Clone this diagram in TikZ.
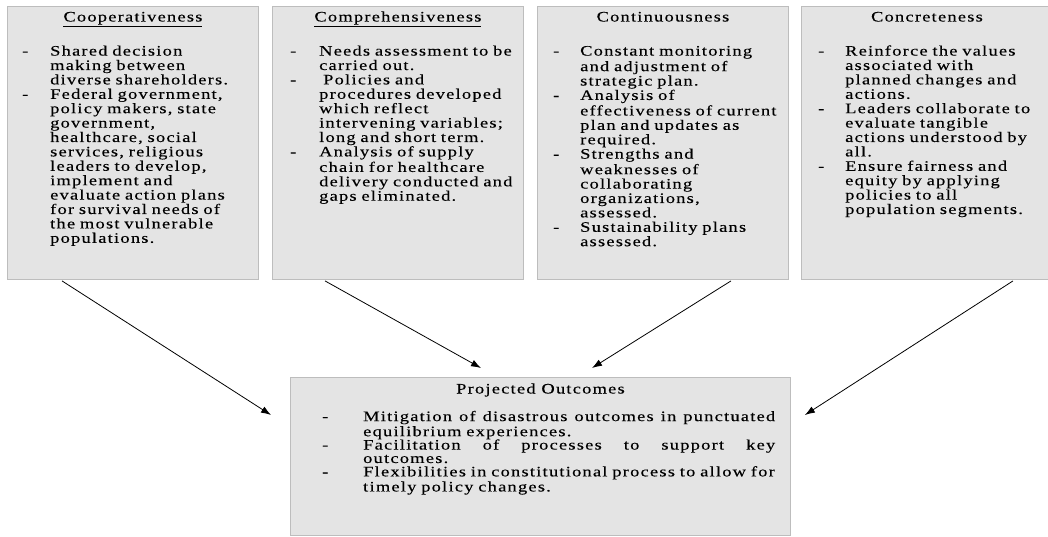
\documentclass[tikz,border=0pt]{standalone}
\usepackage{fontspec}
\setmainfont{Liberation Serif}[FakeStretch=1.27,LetterSpace=8.5,FakeBold=0.2]
\usetikzlibrary{arrows.meta,calc}
\definecolor{boxfill}{HTML}{E4E4E4}
\definecolor{boxline}{HTML}{BDBDBD}
\newlength\itind
\newcommand\ditem[1]{\par\noindent\hangindent=\itind\hangafter=1\makebox[\itind][l]{-}\strut#1\par}
\tikzset{
  box/.style={draw=boxline, fill=boxfill, line width=0.9pt, anchor=north west, inner sep=0pt},
  head/.style={anchor=base, inner sep=0pt, font=\fontsize{14.5}{14.4}\selectfont},
  txt/.style={anchor=north west, inner sep=0pt, text width=240pt, align=left,
    font=\fontsize{14.5}{14.4}\selectfont},
  arr/.style={-{Latex[length=10pt,width=7pt]}, line width=0.8pt, black}
}
\begin{document}
\begin{tikzpicture}[x=1pt,y=-1pt]
\clip (0,0) rectangle (1048,537);
\fill[white] (0,0) rectangle (1048,537);
% top boxes
\node[box, minimum width=251pt, minimum height=273pt] (b1) at (7,6) {};
\node[box, minimum width=251pt, minimum height=273pt] (b2) at (272,6) {};
\node[box, minimum width=251pt, minimum height=273pt] (b3) at (537,6) {};
\node[box, minimum width=251pt, minimum height=273pt] (b4) at (801,6) {};
% headings
\node[head] (h1) at ($(b1.north)+(0,15.5)$) {\underline{Cooperativeness}};
\node[head] (h2) at ($(b2.north)+(0,15.5)$) {\underline{Comprehensiveness}};
\node[head] (h3) at ($(b3.north)+(0,15.5)$) {Continuousness};
\node[head] (h4) at ($(b4.north)+(0,15.5)$) {Concreteness};
% contents
\node[txt] (t1) at ($(b1.north west)+(15,35)$) {\setlength\itind{28pt}\raggedright
\ditem{Shared decision\newline making between\newline diverse shareholders.}
\ditem{Federal government,\newline policy makers, state\newline government,\newline healthcare, social\newline services, religious\newline leaders to develop,\newline implement and\newline evaluate action plans\newline for survival needs of\newline the most vulnerable\newline populations.}};
\node[txt] (t2) at ($(b2.north west)+(18,35)$) {\setlength\itind{29pt}\raggedright
\ditem{Needs assessment to be\newline carried out.}
\ditem{\hspace*{4pt}Policies and\newline procedures developed\newline which reflect\newline intervening variables;\newline long and short term.}
\ditem{Analysis of supply\newline chain for healthcare\newline delivery conducted and\newline gaps eliminated.}};
\node[txt] (t3) at ($(b3.north west)+(16,35)$) {\setlength\itind{27pt}\raggedright
\ditem{Constant monitoring\newline and adjustment of\newline strategic plan.}
\ditem{Analysis of\newline effectiveness of current\newline plan and updates as\newline required.}
\ditem{Strengths and\newline weaknesses of\newline collaborating\newline organizations,\newline assessed.}
\ditem{Sustainability plans\newline assessed.}};
\node[txt] (t4) at ($(b4.north west)+(17,35)$) {\setlength\itind{27pt}\raggedright
\ditem{Reinforce the values\newline associated with\newline planned changes and\newline actions.}
\ditem{Leaders collaborate to\newline evaluate tangible\newline actions understood by\newline all.}
\ditem{Ensure fairness and\newline equity by applying\newline policies to all\newline population segments.}};
% bottom box
\node[box, minimum width=500pt, minimum height=158pt] (po) at (290,377) {};
\node[head] (hp) at ($(po.north)+(0,16.5)$) {Projected Outcomes};
\node[txt, text width=460pt, font=\fontsize{14.5}{13.4}\selectfont] (tp) at ($(po.north west)+(32,30.5)$) {\setlength\itind{41pt}\raggedright
\ditem{\makebox[412pt][s]{Mitigation\hfill of\hfill disastrous\hfill outcomes\hfill in\hfill punctuated}\newline equilibrium experiences.}
\ditem{\makebox[412pt][s]{Facilitation\hfill of\hfill processes\hfill to\hfill support\hfill key}\newline outcomes.}
\ditem{\makebox[412pt][s]{Flexibilities in constitutional process to allow for}\newline timely policy changes.}};
% arrows
\draw[arr] ($(b1.south west)+(55,1)$) -- ($(po.north west)+(-19,38)$);
\draw[arr] ($(b2.south west)+(53,1)$) -- ($(po.north west)+(191,-9)$);
\draw[arr] ($(b3.south west)+(194,1)$) -- ($(po.north west)+(302,-9)$);
\draw[arr] ($(b4.south west)+(212,1)$) -- ($(po.north east)+(14,38)$);
\end{tikzpicture}
\end{document}
